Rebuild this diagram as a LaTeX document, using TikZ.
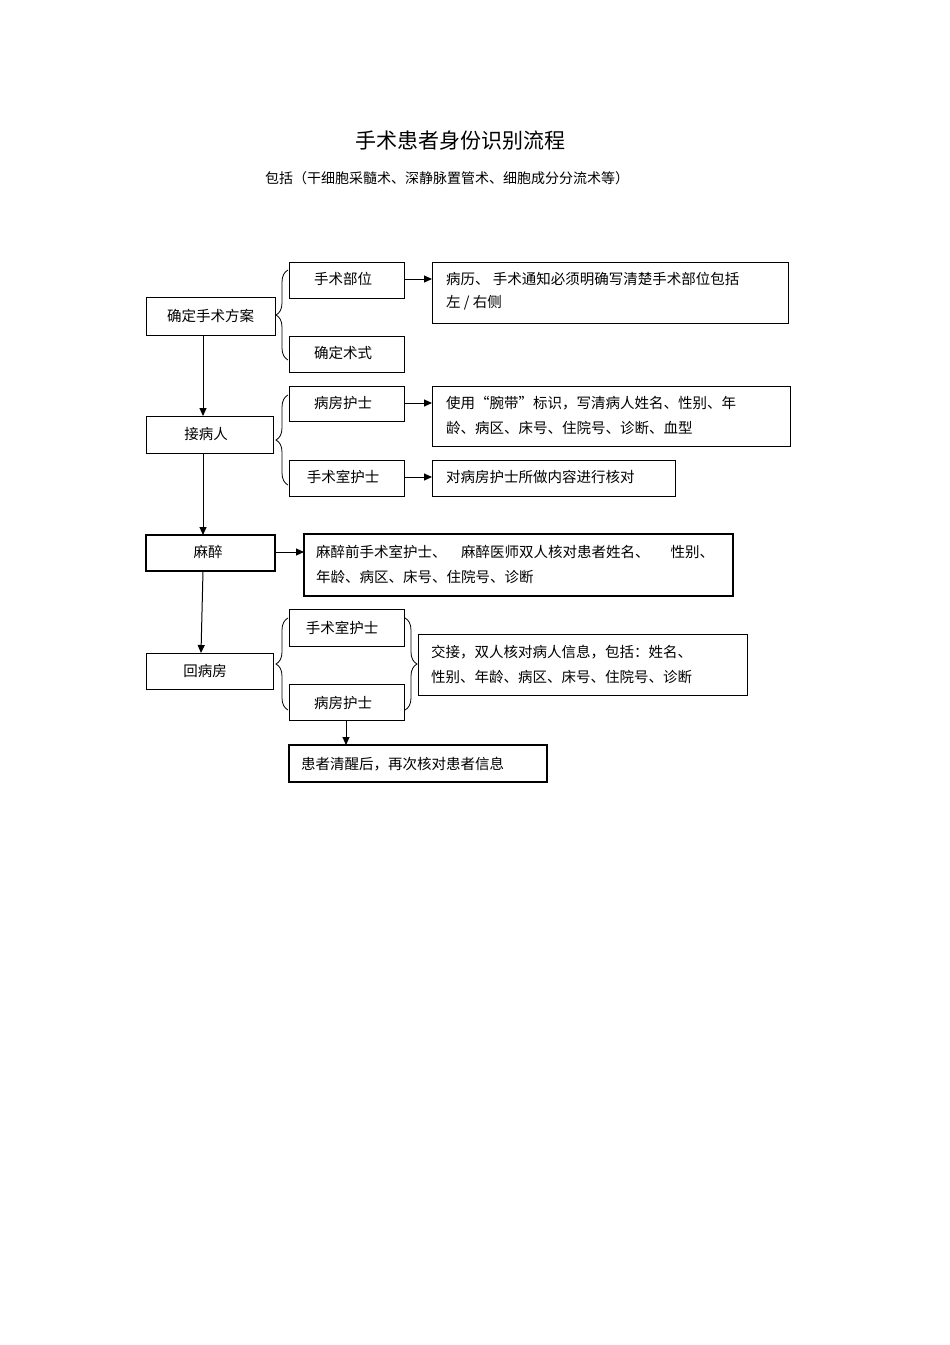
\documentclass[tikz,border=0pt]{standalone}
\usepackage{fontspec}
\setmainfont{Noto Sans CJK SC}
\usetikzlibrary{decorations.pathreplacing,arrows.meta}
\begin{document}
\begin{tikzpicture}[x=1pt,y=-1pt,
  bx/.style={draw,line width=0.9pt,inner sep=0,outer sep=0},
  txt/.style={font=\fontsize{14.5}{17}\selectfont,anchor=west,inner sep=0},
  ctxt/.style={font=\fontsize{14.5}{17}\selectfont,inner sep=0},
  arr/.style={-{Triangle[length=8pt,width=7pt]},line width=1pt},
  brc/.style={decorate,decoration={brace,amplitude=12pt},line width=0.8pt}]
\useasboundingbox (0,0) rectangle (950,1345);
\node[font=\fontsize{21}{25}\selectfont] (title) at (460,141) {手术患者身份识别流程};
\node[font=\fontsize{14}{17}\selectfont] (sub) at (447,178) {包括（干细胞采髓术、深静脉置管术、细胞成分分流术等）};
% boxes
\draw[bx] (146,297) rectangle (275,335); \node[ctxt] (A) at (210.5,316) {确定手术方案};
\draw[bx] (289,262) rectangle (404,298); \node[ctxt] (B1) at (343,279) {手术部位};
\draw[bx] (289,336) rectangle (404,372); \node[ctxt] (B2) at (343,353) {确定术式};
\draw[bx] (432,262) rectangle (788,323);
\node[txt] (C1a) at (446,279) {病历、 手术通知必须明确写清楚手术部位包括};
\node[txt] (C1b) at (446,303) {左 / 右侧};
\draw[bx] (146,416) rectangle (273,453); \node[ctxt] (D) at (206,434) {接病人};
\draw[bx] (289,386) rectangle (404,421); \node[ctxt] (E1) at (343,403) {病房护士};
\draw[bx] (289,460) rectangle (404,496); \node[ctxt] (E2) at (343,477) {手术室护士};
\draw[bx] (432,386) rectangle (790,446);
\node[txt] (F1a) at (446,403) {使用“腕带”标识，写清病人姓名、性别、年};
\node[txt] (F1b) at (446,428) {龄、病区、床号、住院号、诊断、血型};
\draw[bx] (432,460) rectangle (675,496);
\node[txt] (F2) at (446,477) {对病房护士所做内容进行核对};
\draw[bx,line width=1.5pt] (146,535) rectangle (275,571); \node[ctxt] (G) at (208,552) {麻醉};
\draw[bx,line width=1.2pt] (304,534) rectangle (733,596);
\node[txt] (H1) at (316,552) {麻醉前手术室护士、\quad 麻醉医师双人核对患者姓名、\quad\ \ 性别、};
\node[txt] (H2) at (316,577) {年龄、病区、床号、住院号、诊断};
\draw[bx] (146,653) rectangle (273,689); \node[ctxt] (I) at (205,671) {回病房};
\draw[bx] (289,609) rectangle (404,646); \node[ctxt] (J1) at (342,628) {手术室护士};
\draw[bx] (289,684) rectangle (404,720); \node[ctxt] (J2) at (343,703) {病房护士};
\draw[bx] (418,634) rectangle (747,695);
\node[txt] (K1) at (431,652) {交接，双人核对病人信息，包括：姓名、};
\node[txt] (K2) at (431,677) {性别、年龄、病区、床号、住院号、诊断};
\draw[bx,line width=1.2pt] (289,745) rectangle (547,782);
\node[txt] (L) at (301,764) {患者清醒后，再次核对患者信息};
% braces
\draw[brc] (288,360) -- (288,270);
\draw[brc] (288,485) -- (288,395);
\draw[brc] (288,710) -- (288,618);
\draw[brc] (405,618) -- (405,710);
% arrows
\draw[arr] (203,335) -- (203,416);
\draw[arr] (203,453) -- (203,535);
\draw[arr] (203,571) -- (201,653);
\draw[arr] (346,720) -- (346,745);
\draw[arr] (404,279) -- (432,279);
\draw[arr] (404,403) -- (432,403);
\draw[arr] (404,477) -- (432,477);
\draw[arr] (275,552) -- (304,552);
\end{tikzpicture}
\end{document}
